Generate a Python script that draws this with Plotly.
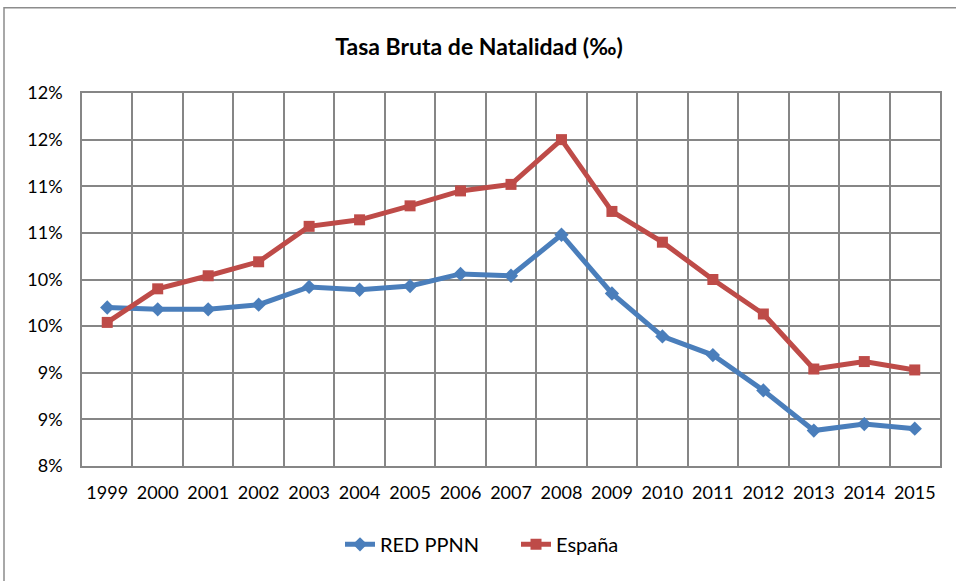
import plotly.graph_objects as go

years = ["1999", "2000", "2001", "2002", "2003", "2004", "2005", "2006", "2007",
         "2008", "2009", "2010", "2011", "2012", "2013", "2014", "2015"]
red_ppnn = [9.70, 9.68, 9.68, 9.73, 9.92, 9.89, 9.93, 10.06, 10.04,
            10.48, 9.85, 9.39, 9.19, 8.81, 8.38, 8.45, 8.40]
espana = [9.54, 9.90, 10.04, 10.19, 10.57, 10.64, 10.79, 10.95, 11.02,
          11.50, 10.73, 10.40, 10.00, 9.63, 9.04, 9.12, 9.03]
y_ticks = [8.0, 8.5, 9.0, 9.5, 10.0, 10.5, 11.0, 11.5, 12.0]
y_labels = ["8%", "9%", "9%", "10%", "10%", "11%", "11%", "12%", "12%"]

font = "Lato, Carlito, Calibri, sans-serif"
grid = "#868686"

fig = go.Figure()
fig.add_trace(go.Scatter(x=years, y=red_ppnn, name="RED PPNN", mode="lines+markers",
                         line=dict(color="#4A7EBB", width=5),
                         marker=dict(symbol="diamond", size=11, color="#4A7EBB")))
fig.add_trace(go.Scatter(x=years, y=espana, name="España", mode="lines+markers",
                         line=dict(color="#BE4B48", width=5),
                         marker=dict(symbol="square", size=11, color="#BE4B48")))

fig.update_layout(
    width=956, height=581,
    margin=dict(l=82, r=16, t=93, b=115),
    paper_bgcolor="white", plot_bgcolor="white",
    font=dict(family=font, size=18, color="black"),
    title=dict(text="<b>Tasa Bruta de Natalidad (‰)</b>", x=479 / 956, xanchor="center",
               y=1 - 47 / 581, yanchor="middle", font=dict(size=23)),
    showlegend=True,
    legend=dict(orientation="h", x=(340 - 82) / 858, xanchor="left", y=-0.21, yanchor="middle",
                font=dict(size=20), entrywidth=131),
    xaxis=dict(type="category", tickson="boundaries", showgrid=True, gridcolor=grid,
               gridwidth=1.5, showline=True, linecolor=grid, linewidth=1.5, mirror=True,
               ticks="", tickangle=0, ticklabelstandoff=10, range=[-0.5, 16.5]),
    yaxis=dict(range=[8, 12], tickvals=y_ticks, ticktext=y_labels, showgrid=True,
               gridcolor=grid, gridwidth=1.5, showline=True, linecolor=grid,
               linewidth=1.5, mirror=True, ticks="", ticklabelstandoff=14, zeroline=False),
)

# chart area border (cut by the picture at right and bottom)
fig.add_shape(type="rect", xref="paper", yref="paper",
              x0=(4 - 82) / 858, x1=1.2, y0=-0.6, y1=1 + (93.3 - 8) / 373.4,
              line=dict(color="#8C8C8C", width=1.5), layer="below")

# drop the page margin so the figure sits in the corner of the window
fig.write_html("out.html", config={"displayModeBar": False},
               post_script="document.body.style.margin='0px';")
